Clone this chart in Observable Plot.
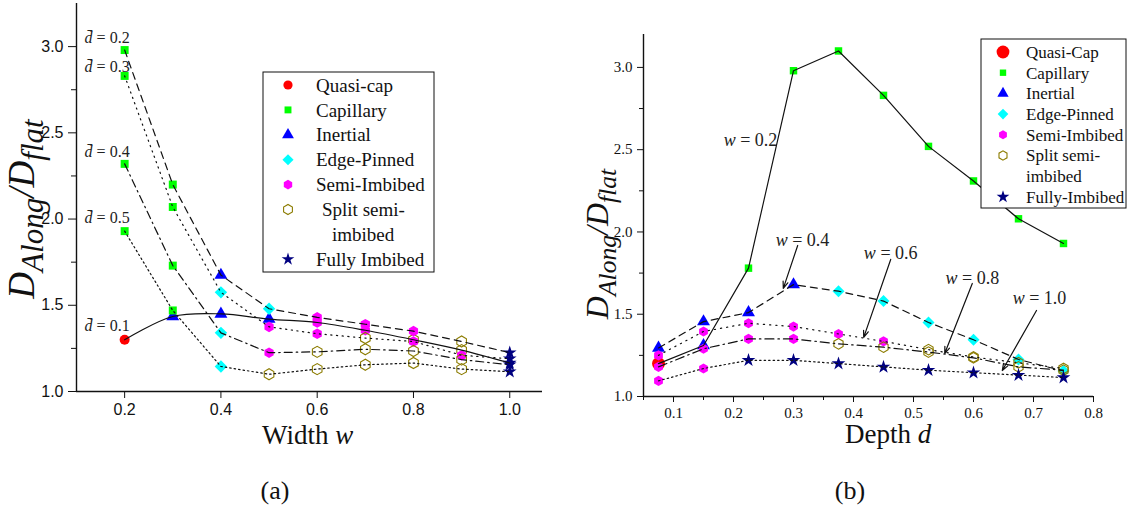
<!DOCTYPE html>
<html><head><meta charset="utf-8">
<script src="https://cdn.jsdelivr.net/npm/d3@7"></script>
<script src="https://cdn.jsdelivr.net/npm/@observablehq/plot@0.6"></script>
<style>
body{margin:0;background:#fff;}
#wrap{position:relative;width:1139px;height:508px;overflow:hidden;background:#fff;}
#wrap > *{position:absolute;}
.cap{font-family:"Liberation Serif",serif;font-size:26px;line-height:26px;color:#111;transform:translateX(-50%);}
</style></head><body><div id="wrap"></div>
<script>
// ---------------- DATA ----------------
// regime codes: Q Quasi-cap, C Capillary, I Inertial, E Edge-Pinned, S Semi-Imbibed, P Split semi-imbibed, F Fully Imbibed
const regimeCodes = ["Q","C","I","E","S","P","F"];
const legendLabelsA = ["Quasi-cap","Capillary","Inertial","Edge-Pinned","Semi-Imbibed","Split semi-|imbibed","Fully Imbibed"];
const legendLabelsB = ["Quasi-Cap","Capillary","Inertial","Edge-Pinned","Semi-Imbibed","Split semi-|imbibed","Fully-Imbibed"];

// Panel (a): D_Along/D_flat vs width w, one series per d-bar
const widthW = [0.2, 0.3, 0.4, 0.5, 0.6, 0.7, 0.8, 0.9, 1.0];
const dbarNames = ["0.1","0.2","0.3","0.4","0.5"];
const dbar01 = [1.30, 1.435, 1.45, 1.42, 1.40, 1.355, 1.30, 1.24, 1.165];
const dbar01Regime = ["Q","I","I","I","S","S","P","P","F"];
const dbar02 = [2.98, 2.20, 1.675, 1.48, 1.43, 1.39, 1.35, 1.29, 1.225];
const dbar02Regime = ["C","C","I","E","S","S","S","P","F"];
const dbar03 = [2.83, 2.07, 1.575, 1.375, 1.335, 1.31, 1.29, 1.21, 1.19];
const dbar03Regime = ["C","C","E","S","S","P","S","S","F"];
const dbar04 = [2.32, 1.73, 1.34, 1.225, 1.23, 1.245, 1.235, 1.185, 1.155];
const dbar04Regime = ["C","C","E","S","P","P","P","P","F"];
const dbar05 = [1.93, 1.47, 1.145, 1.10, 1.13, 1.155, 1.165, 1.13, 1.115];
const dbar05Regime = ["C","C","E","P","P","P","P","P","F"];
const leftXTicks = [0.2, 0.4, 0.6, 0.8, 1.0];
const leftYTicks = [1.0, 1.5, 2.0, 2.5, 3.0];
const leftYMinor = [1.25, 1.75, 2.25, 2.75];

// Panel (b): D_Along/D_flat vs depth d, one series per w
const depthD = [0.075, 0.15, 0.225, 0.3, 0.375, 0.45, 0.525, 0.6, 0.675, 0.75];
const wNames = ["0.2","0.4","0.6","0.8","1.0"];
const w02 = [1.20, 1.31, 1.78, 2.98, 3.10, 2.83, 2.52, 2.31, 2.08, 1.93];
const w02Regime = ["Q","I","C","C","C","C","C","C","C","C"];
const w04 = [1.295, 1.455, 1.51, 1.68, 1.64, 1.58, 1.45, 1.345, 1.225, 1.155];
const w04Regime = ["I","I","I","I","E","E","E","E","E","E"];
const w06 = [1.25, 1.395, 1.445, 1.425, 1.38, 1.335, 1.285, 1.24, 1.205, 1.17];
const w06Regime = ["S","S","S","S","S","S","P","P","P","P"];
const w08 = [1.18, 1.29, 1.35, 1.35, 1.32, 1.30, 1.27, 1.235, 1.18, 1.16];
const w08Regime = ["S","S","S","S","P","P","P","P","P","P"];
const w10 = [1.095, 1.17, 1.22, 1.22, 1.20, 1.18, 1.16, 1.145, 1.13, 1.115];
const w10Regime = ["S","S","F","F","F","F","F","F","F","F"];
const rightXTicks = [0.1, 0.2, 0.3, 0.4, 0.5, 0.6, 0.7, 0.8];
const rightXMinor = [0.05, 0.15, 0.25, 0.35, 0.45, 0.55, 0.65, 0.75];
const rightYTicks = [1.0, 1.5, 2.0, 2.5, 3.0];
const rightYMinor = [1.25, 1.75, 2.25, 2.75];

// ---------------- STYLES ----------------
const SERIF = "Liberation Serif, Times New Roman, serif";
const SANS = "Liberation Sans, Arial, sans-serif";
const regimeStyle = {
  Q: {symbol: "circle", fill: "#ff0000"},
  C: {symbol: "square", fill: "#00ff00"},
  I: {symbol: "triangle", fill: "#0000ff"},
  E: {symbol: "diamond2", fill: "#00ffff"},
  S: {symbol: "hexagon", fill: "#ff00ff"},
  P: {symbol: "hexagon", fill: "none", stroke: "#8c7c00", strokeWidth: 1.1},
  F: {symbol: "star", fill: "#000080"}
};
const sizeA = {Q: 5, C: 4.5, I: 4.8, E: 5.6, S: 4.6, P: 4.8, F: 4.3};
const sizeB = {Q: 6.5, C: 4.2, I: 4.8, E: 5.4, S: 4.4, P: 4.6, F: 4.3};
const leftLineStyle = [
  {dash: null, curve: "catmull-rom"},
  {dash: "7,5", curve: "linear"},
  {dash: "1.2,4.5", curve: "linear"},
  {dash: "8,4,1.5,4", curve: "linear"},
  {dash: "1.5,3", curve: "linear"}
];
const rightLineStyle = [
  {dash: null},
  {dash: "7,5"},
  {dash: "1.2,5"},
  {dash: "9,4,1.5,4"},
  {dash: "1.5,3"}
];

function rowsOf(xs, ys, regs, key) { return xs.map((x, i) => ({x, y: ys[i], regime: regs[i], series: key})); }
const leftSeries = [
  rowsOf(widthW, dbar01, dbar01Regime, dbarNames[0]),
  rowsOf(widthW, dbar02, dbar02Regime, dbarNames[1]),
  rowsOf(widthW, dbar03, dbar03Regime, dbarNames[2]),
  rowsOf(widthW, dbar04, dbar04Regime, dbarNames[3]),
  rowsOf(widthW, dbar05, dbar05Regime, dbarNames[4])
];
const rightSeries = [
  rowsOf(depthD, w02, w02Regime, wNames[0]),
  rowsOf(depthD, w04, w04Regime, wNames[1]),
  rowsOf(depthD, w06, w06Regime, wNames[2]),
  rowsOf(depthD, w08, w08Regime, wNames[3]),
  rowsOf(depthD, w10, w10Regime, wNames[4])
];

function dotMarks(rows, sizes) {
  return regimeCodes.map(code => {
    const st = regimeStyle[code];
    const sub = rows.filter(d => d.regime === code);
    return Plot.dot(sub, {x: "x", y: "y", symbol: st.symbol, fill: st.fill,
      stroke: st.stroke || "none", strokeWidth: st.strokeWidth || 0, r: sizes[code]});
  });
}

// ---------------- LEFT PANEL ----------------
const xDomA = [0.1, 1.068], yDomA = [1, 3.25];
const dbarLabelRows = leftSeries.map(s => ({x: s[0].x, y: s[0].y, text: "d\u0304 = " + s[0].series}));
const dbarDy = [-14, -12, -9, -12, -13];

const left = Plot.plot({
  width: 560, height: 460, marginLeft: 76, marginRight: 18, marginTop: 3, marginBottom: 69,
  x: {domain: xDomA}, y: {domain: yDomA},
  style: {fontFamily: SANS, fontSize: "16px", color: "#111", background: "white", overflow: "visible"},
  marks: [
    Plot.axisX(leftXTicks, {tickSize: 7, tickPadding: 5, tickFormat: d3.format(".1f"), label: null, fontSize: 16}),
    Plot.axisY(leftYTicks, {tickSize: 8, tickPadding: 5, tickFormat: d3.format(".1f"), label: null, fontSize: 16}),
    Plot.axisY(leftYMinor, {tickSize: 5, tickFormat: () => "", label: null}),
    Plot.ruleX([xDomA[0]], {stroke: "#111", strokeWidth: 1.4}),
    Plot.ruleY([yDomA[0]], {stroke: "#111", strokeWidth: 1.4}),
    ...leftSeries.flatMap(s => dotMarks(s, sizeA)),
    ...leftSeries.map((s, i) => Plot.line(s, {x: "x", y: "y", stroke: "#111", strokeWidth: 1.2,
      strokeDasharray: leftLineStyle[i].dash, curve: leftLineStyle[i].curve})),
    ...dbarLabelRows.map((d, i) => Plot.text([d], {x: "x", y: "y", text: "text", textAnchor: "end", dx: 5, dy: dbarDy[i],
      fontFamily: SERIF, fontSize: 16, fill: "#222", className: "mathlab"}))
  ]
});

// ---------------- RIGHT PANEL ----------------
const xDomB = [0.05, 0.8], yDomB = [1, 3.2];
const annotText = wNames.map(w => "w = " + w);
const annotPos = [
  {x: 0.273, y: 2.56, anchor: "end"},
  {x: 0.315, y: 1.95, anchor: "middle"},
  {x: 0.462, y: 1.87, anchor: "middle"},
  {x: 0.598, y: 1.72, anchor: "middle"},
  {x: 0.71, y: 1.60, anchor: "middle"}
];
const arrowPos = [
  {x1: 0.307, y1: 1.918, x2: 0.283, y2: 1.657},
  {x1: 0.462, y1: 1.833, x2: 0.417, y2: 1.359},
  {x1: 0.598, y1: 1.687, x2: 0.552, y2: 1.261},
  {x1: 0.705, y1: 1.523, x2: 0.648, y2: 1.158}
];

const right = Plot.plot({
  width: 579, height: 460, marginLeft: 83, marginRight: 46, marginTop: 34, marginBottom: 64,
  x: {domain: xDomB}, y: {domain: yDomB},
  style: {fontFamily: SERIF, fontSize: "15px", color: "#111", background: "white", overflow: "visible"},
  marks: [
    Plot.axisX(rightXTicks, {tickSize: 6, tickPadding: 5, tickFormat: d3.format(".1f"), label: null, fontSize: 15}),
    Plot.axisX(rightXMinor, {tickSize: 4, tickFormat: () => "", label: null}),
    Plot.axisY(rightYTicks, {tickSize: 6, tickPadding: 5, tickFormat: d3.format(".1f"), label: null, fontSize: 15}),
    Plot.axisY(rightYMinor, {tickSize: 4, tickFormat: () => "", label: null}),
    Plot.ruleX([xDomB[0]], {stroke: "#111", strokeWidth: 1.4}),
    Plot.ruleY([yDomB[0]], {stroke: "#111", strokeWidth: 1.4}),
    ...rightSeries.flatMap(s => dotMarks(s, sizeB)),
    ...rightSeries.map((s, i) => Plot.line(s, {x: "x", y: "y", stroke: "#111", strokeWidth: 1.2,
      strokeDasharray: rightLineStyle[i].dash})),
    Plot.arrow(arrowPos, {x1: "x1", y1: "y1", x2: "x2", y2: "y2", stroke: "#111", strokeWidth: 1.2, headLength: 9, headAngle: 40}),
    ...annotPos.map((p, i) => Plot.text([{...p, text: annotText[i]}], {x: "x", y: "y", text: "text", textAnchor: p.anchor,
      fontFamily: SERIF, fontSize: 18, fill: "#222", className: "mathlab"}))
  ]
});

// italicise the math variable in annotation labels
function italicise(svg) {
  d3.select(svg).selectAll("g.mathlab text").each(function () {
    const t = this.textContent;
    const k = t.indexOf(" ");
    this.textContent = "";
    d3.select(this).append("tspan").attr("font-style", "italic").text(t.slice(0, k));
    d3.select(this).append("tspan").text(t.slice(k));
  });
}
italicise(left); italicise(right);

// axis titles
function yTitle(svg, x, y, size, sub) {
  const t = d3.select(svg).append("text").attr("transform", `translate(${x},${y}) rotate(-90)`)
    .attr("text-anchor", "middle").attr("font-family", SERIF).attr("font-style", "italic")
    .attr("font-size", size).attr("fill", "#111");
  t.append("tspan").text("D");
  t.append("tspan").attr("font-size", size * sub).attr("dy", size * 0.24).text("Along");
  t.append("tspan").attr("dy", -size * 0.24).text("/D");
  t.append("tspan").attr("font-size", size * sub).attr("dy", size * 0.24).text("flat");
}
function xTitle(svg, x, y, size, word, v) {
  const t = d3.select(svg).append("text").attr("x", x).attr("y", y).attr("font-family", SERIF)
    .attr("text-anchor", "start").attr("font-size", size).attr("fill", "#111");
  t.append("tspan").text(word + " ");
  t.append("tspan").attr("font-style", "italic").text(v);
}
yTitle(left, 34, 209, 37, 0.84);
yTitle(right, 48, 244, 32, 0.8);
xTitle(left, 262, 444, 27, "Width", "w");
xTitle(right, 285, 443, 27, "Depth", "d");

// legends
function symPath(kind, r) {
  if (kind === "hexagon") {
    const rx = r, ry = rx * 2 / Math.sqrt(3), hy = ry / 2;
    return `M0,${ry}L${rx},${hy}L${rx},${-hy}L0,${-ry}L${-rx},${-hy}L${-rx},${hy}Z`;
  }
  const map = {circle: d3.symbolCircle, square: d3.symbolSquare, triangle: d3.symbolTriangle, diamond2: d3.symbolDiamond2, star: d3.symbolStar};
  return d3.symbol(map[kind], Math.PI * r * r)();
}
function legend(svg, o, labels, sizes) {
  const g = d3.select(svg).append("g").attr("text-anchor", "start");
  g.append("rect").attr("x", o.x).attr("y", o.y).attr("width", o.w).attr("height", o.h)
    .attr("fill", "white").attr("stroke", "#111").attr("stroke-width", 1);
  let row = 0;
  regimeCodes.forEach((code, i) => {
    const st = regimeStyle[code];
    const cy = o.y0 + row * o.step;
    g.append("path").attr("d", symPath(st.symbol, sizes[code])).attr("transform", `translate(${o.mx},${cy})`)
      .attr("fill", st.fill).attr("stroke", st.stroke || "none").attr("stroke-width", st.strokeWidth || 0);
    const parts = labels[i].split("|");
    parts.forEach((p, j) => {
      g.append("text").attr("x", j === 0 ? o.tx + (parts.length > 1 ? o.splitDx : 0) : o.tx + o.contDx)
        .attr("y", o.y0 + (row + j) * o.step).attr("dy", "0.35em").attr("text-anchor", "start")
        .attr("font-family", SERIF).attr("font-size", o.fs).attr("fill", "#111").text(p);
    });
    row += parts.length;
  });
}
legend(left, {x: 263, y: 72, w: 171, h: 200, y0: 85, step: 24.9, mx: 288, tx: 316, splitDx: 6, contDx: 16, fs: 19},
  legendLabelsA, {Q: 4.6, C: 3.9, I: 4.4, E: 5.0, S: 4.2, P: 4.4, F: 4.0});
legend(right, {x: 421, y: 39, w: 145, h: 169, y0: 52, step: 20.7, mx: 443, tx: 466, splitDx: 0, contDx: 0, fs: 17},
  legendLabelsB, {Q: 6.4, C: 3.6, I: 4.2, E: 4.8, S: 3.9, P: 4.0, F: 4.0});

const wrap = document.getElementById("wrap");
left.style.left = "0px"; left.style.top = "0px";
right.style.left = "560px"; right.style.top = "0px";
wrap.appendChild(left); wrap.appendChild(right);
for (const [txt, cx] of [["(a)", 275], ["(b)", 850]]) {
  const d = document.createElement("div");
  d.className = "cap"; d.textContent = txt; d.style.left = cx + "px"; d.style.top = "478px";
  wrap.appendChild(d);
}
</script></body></html>
